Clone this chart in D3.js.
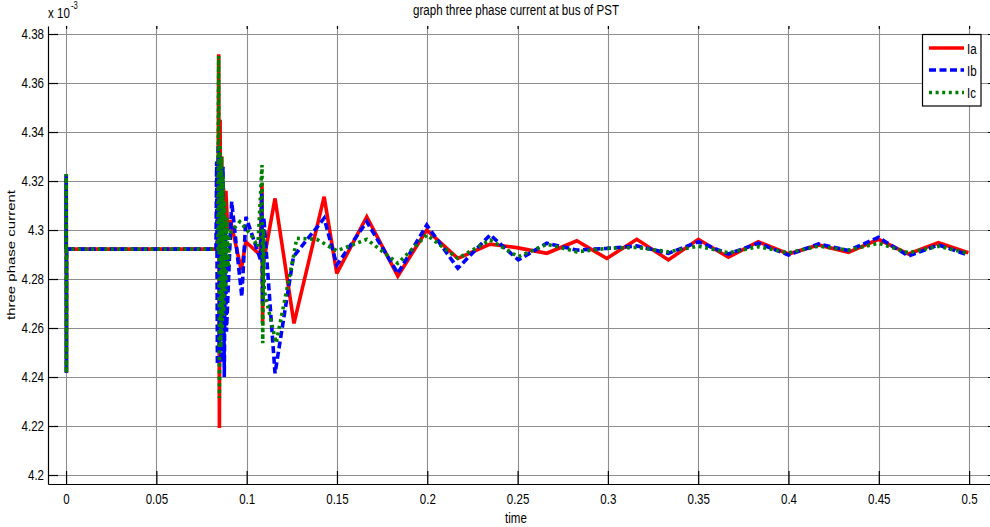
<!DOCTYPE html>
<html>
<head>
<meta charset="utf-8">
<title>graph three phase current at bus of PST</title>
<script src="https://cdn.jsdelivr.net/npm/d3@7"></script>
<style>
  html, body { margin: 0; padding: 0; background: #fff; }
  svg { display: block; }
</style>
</head>
<body>
<svg id="chart" width="990" height="527"></svg>
<script>
// Three-phase current at the PST bus (values in units of 1e-3)

const timeIa = [0, 0.0001, 0.0002, 0.0003, 0.0840, 0.0845, 0.0849, 0.0853, 0.0857, 0.0862,
  0.0866, 0.0872, 0.0878, 0.0885, 0.0895, 0.0910, 0.0970, 0.0995, 0.1075, 0.1085,
  0.1088, 0.1092, 0.1157, 0.1262, 0.1429, 0.1499, 0.1665, 0.1837, 0.1997, 0.2169,
  0.2348, 0.2495, 0.2662, 0.2828, 0.2994, 0.3160, 0.3335, 0.3501, 0.3667, 0.3833,
  0.4000, 0.4166, 0.4332, 0.4498, 0.4664, 0.4830, 0.4996];
const ia = [4.2922, 4.3220, 4.2417, 4.2922, 4.2922, 4.3717, 4.2192, 4.3450, 4.2620, 4.3300,
  4.2700, 4.3170, 4.2830, 4.3160, 4.3000, 4.3040, 4.2837, 4.2952, 4.2898, 4.3190,
  4.2620, 4.2864, 4.3129, 4.2619, 4.3136, 4.2823, 4.3054, 4.2812, 4.3000, 4.2884,
  4.2942, 4.2928, 4.2905, 4.2956, 4.2884, 4.2962, 4.2878, 4.2962, 4.2889, 4.2952,
  4.2902, 4.2939, 4.2909, 4.2962, 4.2902, 4.2948, 4.2907];

const timeIb = [0, 0.0001, 0.0002, 0.0003, 0.0830, 0.0834, 0.0838, 0.0843, 0.0848, 0.0853,
  0.0858, 0.0864, 0.0869, 0.0876, 0.0882, 0.0888, 0.0917, 0.0973, 0.0996, 0.1077,
  0.1083, 0.1088, 0.1095, 0.1157, 0.1259, 0.1429, 0.1499, 0.1665, 0.1837, 0.1997,
  0.2169, 0.2348, 0.2504, 0.2662, 0.2828, 0.2994, 0.3160, 0.3335, 0.3501, 0.3667,
  0.3833, 0.4000, 0.4166, 0.4332, 0.4498, 0.4664, 0.4830, 0.4996];
const ib = [4.2922, 4.3229, 4.2417, 4.2922, 4.2922, 4.3280, 4.2450, 4.3350, 4.2500, 4.3300,
  4.2460, 4.3180, 4.3258, 4.2400, 4.3000, 4.2585, 4.3116, 4.2728, 4.3054, 4.2878,
  4.3150, 4.2700, 4.3050, 4.2415, 4.2891, 4.3048, 4.2857, 4.3034, 4.2823, 4.3020,
  4.2844, 4.2980, 4.2878, 4.2946, 4.2918, 4.2925, 4.2935, 4.2905, 4.2952, 4.2902,
  4.2946, 4.2898, 4.2943, 4.2916, 4.2970, 4.2894, 4.2939, 4.2898];

const timeIc = [0, 0.0001, 0.0002, 0.0003, 0.0840, 0.0845, 0.0849, 0.0853, 0.0857, 0.0861,
  0.0865, 0.0869, 0.0873, 0.0878, 0.0884, 0.0890, 0.0897, 0.0905, 0.0962, 0.1025,
  0.1062, 0.1085, 0.1089, 0.1093, 0.1098, 0.1163, 0.1259, 0.1277, 0.1388, 0.1499,
  0.1665, 0.1837, 0.1997, 0.2169, 0.2348, 0.2504, 0.2662, 0.2828, 0.2994, 0.3160,
  0.3335, 0.3501, 0.3667, 0.3833, 0.4000, 0.4166, 0.4332, 0.4498, 0.4664, 0.4830,
  0.4996];
const ic = [4.2922, 4.3229, 4.2417, 4.2922, 4.2922, 4.3710, 4.2314, 4.3350, 4.2520, 4.3300,
  4.2580, 4.3220, 4.2650, 4.3120, 4.2750, 4.3050, 4.2850, 4.2986, 4.3034, 4.2980,
  4.2932, 4.3265, 4.2538, 4.3000, 4.2750, 4.2539, 4.2891, 4.2966, 4.2962, 4.2915,
  4.2962, 4.2864, 4.2980, 4.2884, 4.2959, 4.2891, 4.2942, 4.2911, 4.2925, 4.2929,
  4.2911, 4.2934, 4.2907, 4.2932, 4.2907, 4.2934, 4.2918, 4.2946, 4.2907, 4.2934,
  4.2905];

const seriesNames = ["Ia", "Ib", "Ic"];
const xTicks = [0, 0.05, 0.1, 0.15, 0.2, 0.25, 0.3, 0.35, 0.4, 0.45, 0.5];
const xTickLabels = ["0", "0.05", "0.1", "0.15", "0.2", "0.25", "0.3", "0.35", "0.4", "0.45", "0.5"];
const yTicks = [4.2, 4.22, 4.24, 4.26, 4.28, 4.3, 4.32, 4.34, 4.36, 4.38];
const yTickLabels = ["4.2", "4.22", "4.24", "4.26", "4.28", "4.3", "4.32", "4.34", "4.36", "4.38"];

// ---- layout ----
const L = 48, R = 998, T = 26, B = 484;
const FONT = "'Liberation Sans', Arial, sans-serif";
const SQ = 0.77;   // horizontal condensing of all text

const svg = d3.select("#chart");
const x = d3.scaleLinear().domain([-0.01, 0.516]).range([L, R]);
const y = d3.scaleLinear().domain([4.19633, 4.38327]).range([B, T]);

svg.append("defs").append("clipPath").attr("id", "plotclip")
  .append("rect").attr("x", L).attr("y", T).attr("width", R - L).attr("height", B - T);

// grid
const grid = svg.append("g").attr("stroke", "#8e8e8e").attr("stroke-width", 1.1);
grid.selectAll("line.gx").data(xTicks).join("line")
  .attr("x1", d => Math.round(x(d)) + 0.5).attr("x2", d => Math.round(x(d)) + 0.5)
  .attr("y1", T).attr("y2", B);
grid.selectAll("line.gy").data(yTicks).join("line")
  .attr("y1", d => Math.round(y(d)) + 0.5).attr("y2", d => Math.round(y(d)) + 0.5)
  .attr("x1", L).attr("x2", R);

// axes
const axL = d3.axisLeft(y).tickValues(yTicks).tickFormat((d, i) => yTickLabels[i])
  .tickSizeInner(-10).tickSizeOuter(0).tickPadding(4);
const axB = d3.axisBottom(x).tickValues(xTicks).tickFormat((d, i) => xTickLabels[i])
  .tickSizeInner(-13).tickSizeOuter(0).tickPadding(9);
const axT = d3.axisTop(x).tickValues(xTicks).tickFormat("").tickSizeInner(-3).tickSizeOuter(0);
const axR = d3.axisRight(y).tickValues(yTicks).tickFormat("").tickSizeInner(-10).tickSizeOuter(0);

function styleAxis(g) {
  g.selectAll("path.domain").attr("stroke", "#000").attr("stroke-width", 1.2);
  g.selectAll(".tick line").attr("stroke", "#000").attr("stroke-width", 1.2);
  g.selectAll("text").attr("fill", "#000").attr("font-family", FONT).attr("font-size", 15);
}
const gL = svg.append("g").attr("transform", `translate(${L},0)`).call(axL).call(styleAxis);
gL.attr("font-size", null);
gL.selectAll("text").attr("x", -4 / SQ).attr("transform", `scale(${SQ},1)`);
const gB = svg.append("g").attr("transform", `translate(0,${B})`).call(axB).call(styleAxis);
gB.selectAll("text").attr("transform", `scale(${SQ},1)`);
const gT = svg.append("g").attr("transform", `translate(0,${T})`).call(axT).call(styleAxis);
gT.select("path.domain").remove();
const gR = svg.append("g").attr("transform", `translate(${R},0)`).call(axR).call(styleAxis);
gR.select("path.domain").remove();

// series
const styles = [
  { color: "#ff0000", dash: null },
  { color: "#0000ff", dash: "7,3.5" },
  { color: "#007f00", dash: "3,3.6" }
];
const data = [d3.zip(timeIa, ia), d3.zip(timeIb, ib), d3.zip(timeIc, ic)];
const line = d3.line().x(d => x(d[0])).y(d => y(d[1]));
const plot = svg.append("g").attr("clip-path", "url(#plotclip)");
plot.selectAll("path.series").data(data).join("path")
  .attr("class", "series")
  .attr("d", line)
  .attr("fill", "none")
  .attr("stroke", (d, i) => styles[i].color)
  .attr("stroke-width", 3.6)
  .attr("stroke-dasharray", (d, i) => styles[i].dash)
  .attr("stroke-linejoin", "miter")
  .attr("stroke-miterlimit", 3);

// text helper (condensed glyphs)
function label(parent, px, py, str, size, anchor, rotate) {
  const tr = rotate ? `translate(${px},${py}) rotate(-90) scale(1,${SQ})`
                    : `translate(${px},${py}) scale(${SQ},1)`;
  return parent.append("text")
    .attr("transform", tr)
    .attr("text-anchor", anchor || "start")
    .attr("font-family", FONT).attr("font-size", size).attr("fill", "#000")
    .text(str);
}

label(svg, 516, 15, "graph three phase current at bus of PST", 15, "middle");
label(svg, 516, 523, "time", 15, "middle");
label(svg, 15, 255, "three phase current", 15, "middle", true);
label(svg, 48, 18, "x 10", 15, "start");
label(svg, 71, 9, "-3", 10, "start");

// legend
const lg = svg.append("g");
lg.append("rect").attr("x", 922.5).attr("y", 34.5).attr("width", 58.5).attr("height", 71.5)
  .attr("fill", "#fff").attr("stroke", "#000").attr("stroke-width", 1.2);
const legY = [48, 70, 92.5];
seriesNames.forEach((name, i) => {
  lg.append("line").attr("x1", 929).attr("x2", 964).attr("y1", legY[i]).attr("y2", legY[i])
    .attr("stroke", styles[i].color).attr("stroke-width", 3.6)
    .attr("stroke-dasharray", styles[i].dash);
  label(lg, 967, legY[i] + 5.5, name, 15, "start");
});
</script>
</body>
</html>
